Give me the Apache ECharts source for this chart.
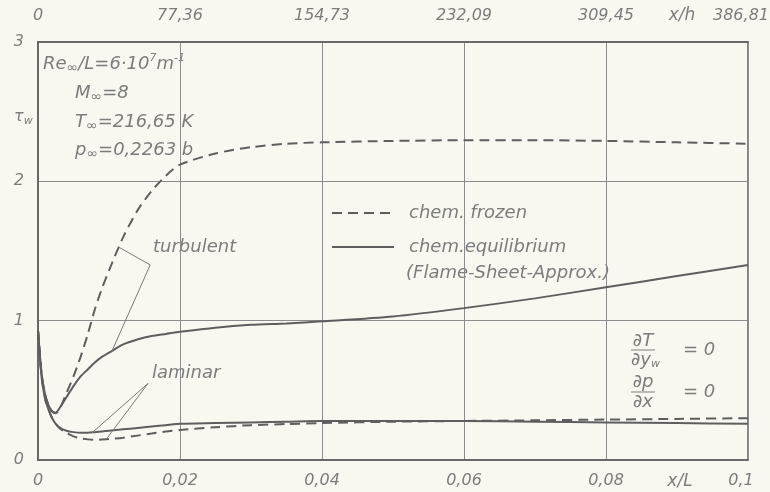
<!DOCTYPE html>
<html><head><meta charset="utf-8">
<script src="https://cdn.jsdelivr.net/npm/echarts@6/dist/echarts.min.js"></script>
<style>html,body{margin:0;padding:0;background:#f8f8f0;}#c{width:770px;height:492px;}</style>
</head><body><div id="c"></div>
<script>
// x/L sample positions (shared by all curves)
const xL = [0, 0.0005, 0.001, 0.0015, 0.002, 0.0025, 0.003, 0.004, 0.005, 0.006, 0.007, 0.008, 0.009, 0.01, 0.012, 0.014, 0.016, 0.018, 0.02, 0.025, 0.03, 0.035, 0.04, 0.05, 0.06, 0.07, 0.08, 0.09, 0.1];
// turbulent, chem. frozen (dashed)
const turbFrozen = [0.93, 0.62, 0.47, 0.39, 0.345, 0.335, 0.36, 0.48, 0.60, 0.74, 0.90, 1.08, 1.23, 1.36, 1.60, 1.79, 1.93, 2.04, 2.12, 2.20, 2.245, 2.27, 2.28, 2.29, 2.295, 2.295, 2.29, 2.28, 2.27];
// turbulent, chem. equilibrium (solid)
const turbEquil = [0.93, 0.62, 0.47, 0.39, 0.35, 0.34, 0.37, 0.45, 0.53, 0.60, 0.65, 0.70, 0.74, 0.77, 0.83, 0.865, 0.89, 0.905, 0.92, 0.95, 0.97, 0.98, 0.995, 1.03, 1.09, 1.16, 1.24, 1.32, 1.40];
// laminar, chem. equilibrium (solid)
const lamEquil = [0.93, 0.60, 0.44, 0.36, 0.30, 0.26, 0.235, 0.21, 0.20, 0.195, 0.195, 0.20, 0.205, 0.21, 0.22, 0.23, 0.24, 0.25, 0.26, 0.265, 0.27, 0.275, 0.28, 0.28, 0.28, 0.275, 0.27, 0.265, 0.26];
// laminar, chem. frozen (dashed)
const lamFrozen = [0.93, 0.60, 0.44, 0.36, 0.30, 0.26, 0.23, 0.195, 0.17, 0.155, 0.148, 0.145, 0.147, 0.15, 0.16, 0.175, 0.19, 0.205, 0.215, 0.235, 0.25, 0.258, 0.265, 0.275, 0.28, 0.285, 0.29, 0.295, 0.30];
// leader lines of the labels (data coordinates)
const turbLeader = [[0.0113, 1.53], [0.0158, 1.40], [0.0104, 0.78]];
const lamLeader = [[0.0076, 0.195], [0.0155, 0.55], [0.0097, 0.155]];
// top axis (x/h) tick labels
const topTicks = ['0', '77,36', '154,73', '232,09', '309,45', '386,81'];
const topMax = 386.81;

const LINE = '#5e5e5e';
const TXT = '#7c7c7c';
const FONT = 'DejaVu Sans';
const pair = ys => xL.map((x, i) => [x, ys[i]]);
const dash = [10, 6];

const chart = echarts.init(document.getElementById('c'));
const baseTxt = {fontFamily: FONT, fontStyle: 'italic', fontSize: 18, fill: TXT};
const rich = {
  t: {fontFamily: FONT, fontStyle: 'italic', fontSize: 18, color: TXT},
  s: {fontFamily: FONT, fontStyle: 'italic', fontSize: 16, color: TXT},
  sub: {fontFamily: FONT, fontStyle: 'italic', fontSize: 14, color: TXT, verticalAlign: 'bottom', padding: [8, 0, 0, 0]},
  subs: {fontFamily: FONT, fontStyle: 'italic', fontSize: 11, color: TXT, verticalAlign: 'bottom', padding: [8, 0, 0, 0]},
  sup: {fontFamily: FONT, fontStyle: 'italic', fontSize: 11, color: TXT, verticalAlign: 'top', padding: [0, 0, 9, 0]}
};
function pt(x, y, text, align, size) {
  return {type: 'text', x: x, y: y, style: Object.assign({text: text, textAlign: align || 'left', textVerticalAlign: 'middle', rich: rich}, baseTxt, size ? {fontSize: size} : {})};
}
const axisFont = {color: TXT, fontFamily: FONT, fontStyle: 'italic', fontSize: 16};
const edgeRich = {e: {color: TXT, fontFamily: FONT, fontStyle: 'italic', fontSize: 16, padding: [0, 14, 0, 0]}};

chart.setOption({
  backgroundColor: '#f8f8f0',
  animation: false,
  grid: {left: 38, right: 22, top: 42, bottom: 32, show: true, borderColor: LINE, borderWidth: 1.5, outerBoundsMode: 'none', containLabel: false},
  legend: {
    data: ['chem. frozen', 'chem.equilibrium'],
    orient: 'vertical', left: 326, top: 199, itemWidth: 62, itemHeight: 14, itemGap: 16,
    selectedMode: false,
    itemStyle: {opacity: 0},
    textStyle: {fontFamily: FONT, fontStyle: 'italic', fontSize: 18, color: TXT, padding: [0, 0, 0, 10]}
  },
  xAxis: [{
    type: 'value', min: 0, max: 0.1, interval: 0.02, position: 'bottom',
    axisLine: {show: true, lineStyle: {color: LINE, width: 1.5}},
    axisTick: {show: false},
    splitLine: {show: true, lineStyle: {color: '#8c8c8c', width: 1}},
    axisLabel: Object.assign({margin: 13, rich: edgeRich, formatter: v => v === 0 ? '0' : (v >= 0.1 ? '{e|0,1}' : String(+v.toFixed(3)).replace('.', ','))}, axisFont)
  }, {
    type: 'value', min: 0, max: topMax, interval: topMax / 5, position: 'top',
    axisLine: {show: true, lineStyle: {color: LINE, width: 1.5}},
    axisTick: {show: false}, splitLine: {show: false},
    axisLabel: Object.assign({margin: 18, rich: edgeRich, formatter: (v) => {
      const i = Math.round(v / (topMax / 5));
      return i === 5 ? '{e|' + topTicks[i] + '}' : topTicks[i];
    }}, axisFont)
  }],
  yAxis: {
    type: 'value', min: 0, max: 3, interval: 1,
    axisLine: {show: true, lineStyle: {color: LINE, width: 1.5}},
    axisTick: {show: false},
    splitLine: {show: true, lineStyle: {color: '#8c8c8c', width: 1}},
    axisLabel: Object.assign({margin: 14}, axisFont)
  },
  series: [
    {type: 'line', name: 'chem. frozen', data: pair(turbFrozen), symbol: 'none', smooth: 0.25, lineStyle: {color: LINE, width: 2, type: dash}, itemStyle: {color: LINE}},
    {type: 'line', name: 'chem.equilibrium', data: pair(turbEquil), symbol: 'none', smooth: 0.25, lineStyle: {color: LINE, width: 2}, itemStyle: {color: LINE}},
    {type: 'line', name: 'chem. frozen', data: pair(lamFrozen), symbol: 'none', smooth: 0.25, lineStyle: {color: LINE, width: 2, type: dash}, itemStyle: {color: LINE}},
    {type: 'line', name: 'chem.equilibrium', data: pair(lamEquil), symbol: 'none', smooth: 0.25, lineStyle: {color: LINE, width: 2}, itemStyle: {color: LINE}},
    {type: 'line', name: 'turbLeader', data: turbLeader, symbol: 'none', lineStyle: {color: '#7a7a7a', width: 1}, silent: true},
    {type: 'line', name: 'lamLeader', data: lamLeader, symbol: 'none', lineStyle: {color: '#7a7a7a', width: 1}, silent: true}
  ],
  graphic: [
    pt(14, 117, '{s|τ}{subs|w}'),
    pt(43, 64, '{t|Re}{sub|∞}{t|/L=6·10}{sup|7}{t|m}{sup|-1}'),
    pt(75, 93, '{t|M}{sub|∞}{t|=8}'),
    pt(75, 122, '{t|T}{sub|∞}{t|=216,65 K}'),
    pt(75, 150, '{t|p}{sub|∞}{t|=0,2263 b}'),
    pt(153, 247, 'turbulent'),
    pt(152, 373, 'laminar'),
    pt(406, 273, '(Flame-Sheet-Approx.)'),
    pt(680, 482, 'x/L', 'center', 17),
    pt(682, 16, 'x/h', 'center', 17),
    pt(643, 341, '∂T', 'center'),
    {type: 'line', shape: {x1: 631, y1: 350, x2: 655, y2: 350}, style: {stroke: TXT, lineWidth: 1}},
    pt(631, 360, '{t|∂y}{subs|w}'),
    pt(683, 350, '= 0'),
    pt(643, 382, '∂p', 'center'),
    {type: 'line', shape: {x1: 631, y1: 392, x2: 655, y2: 392}, style: {stroke: TXT, lineWidth: 1}},
    pt(643, 402, '∂x', 'center'),
    pt(683, 392, '= 0')
  ]
});
</script></body></html>
